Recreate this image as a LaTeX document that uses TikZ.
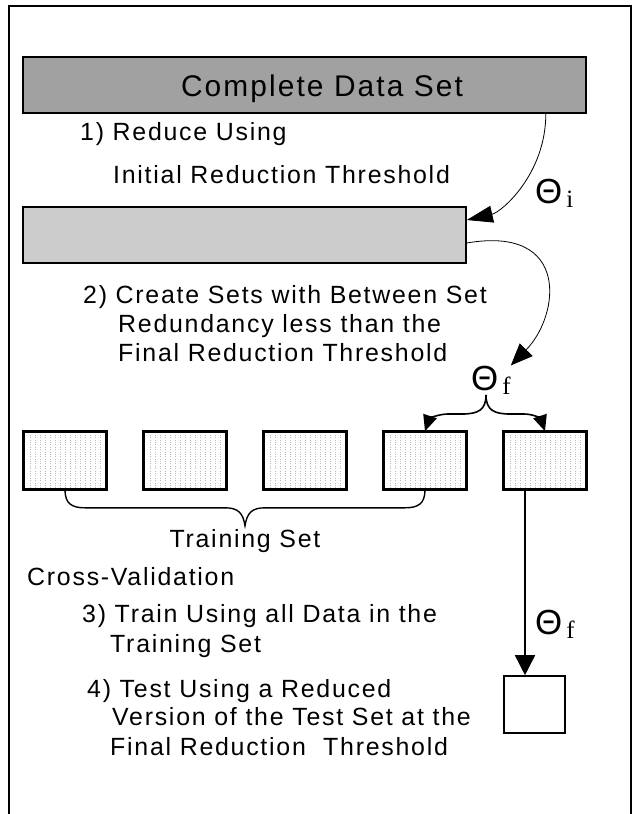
\documentclass[tikz,border=0pt]{standalone}
\usepackage{fontspec}
\setmainfont{Liberation Sans}[LetterSpace=7]
\newfontfamily\subfont{Liberation Serif}
\usetikzlibrary{arrows.meta,calc}
\definecolor{fullgray}{gray}{0.63}
\definecolor{redgray}{gray}{0.80}
\newcommand{\thetasub}[1]{{\fontsize{35}{35}\selectfont Θ}\hspace{4bp}\raisebox{-4bp}{\subfont\fontsize{25}{25}\selectfont #1}}
\tikzset{
  databox/.style={draw, line width=1.6bp, inner sep=0pt},
  steptext/.style={anchor=base west, inner sep=0pt, font=\fontsize{25}{30}\selectfont},
  thlabel/.style={anchor=base west, inner sep=0pt},
}
\begin{document}
\begin{tikzpicture}[x=1bp, y=-1bp]
  \useasboundingbox (0,0) rectangle (637,814);
  \draw[line width=1.8bp] (9,814) |- (631,6) -- (631,814); % 外框
  \node[databox, fill=fullgray, minimum width=563bp, minimum height=56bp] (full) at (304.5,85) {};
  \node[steptext, anchor=base, font=\fontsize{30}{30}\selectfont] (fulllbl) at (322,96) {Complete Data Set};
  \node[databox, fill=redgray, minimum width=443bp, minimum height=56bp] (reduced) at (244.5,235) {};
  \foreach \i in {1,...,5} {
      \node[databox, fill=white, minimum width=82bp, minimum height=57bp] (set\i) at (120*\i-55,460.5) {};
      \draw[step=5, gray!55, line width=0.4bp, dotted] ($(set\i.south west)+(2,-2)$) grid ($(set\i.north east)+(-2,2)$);
      \draw[line width=1.6bp] (set\i.south west) rectangle (set\i.north east);
  }
  \node[databox, fill=white, minimum width=61bp, minimum height=57bp] (final) at (534.5,704.5) {};
  \foreach \name/\x/\y/\txt in {s1a/80/140/{1) Reduce Using}, s1b/113/183/{Initial Reduction Threshold},
      s2a/83/303/{2) Create Sets with Between Set}, s2b/118/332/{Redundancy less than the},
      s2c/118/361/{Final Reduction Threshold}, cv/27/585/{Cross-Validation},
      s3a/82/622/{3) Train Using all Data in the}, s3b/110/652/{Training Set},
      s4a/87/697/{4) Test Using a Reduced}, s4b/112/725/{Version of the Test Set at the},
      s4c/110/755/{Final Reduction\ \ Threshold}} {
      \node[steptext] (\name) at (\x,\y) {\txt};
  }
  \node[thlabel] (thi) at (535,203) {\thetasub{i}};
  \node[thlabel] (thf) at (471,390) {\thetasub{f}};
  \node[thlabel] (thff) at (535,634) {\thetasub{f}};
  \draw[line width=0.8bp, -{Triangle[length=26bp,width=17bp]}] ($(full.south east)+(-41,0)$) .. controls +(0,60) and +(35,-8) .. ($(reduced.east)+(0,-15)$); % 第一步
  \draw[line width=0.8bp, -{Triangle[length=22bp,width=18bp]}] ($(reduced.east)+(0,8)$) .. controls +(104,-18) and +(49,-50) .. (thf.north east); % 第二步
  \coordinate (split) at ($(thf.base west)+(15,5)$);
  \draw[line width=1.6bp, -{Triangle[length=16bp,width=14bp]}] (split) .. controls +(0,15) and +(16,0) .. ++(-24,19) -- ++(-14,0) .. controls +(-10,0) and +(4,-12) .. (set4.north);
  \draw[line width=1.6bp, -{Triangle[length=16bp,width=14bp]}] (split) .. controls +(0,15) and +(-16,0) .. ++(24,19) -- ++(14,0) .. controls +(10,0) and +(-4,-12) .. (set5.north);
  \coordinate (tip) at ($(set1.south)!0.5!(set4.south)+(0,36)$);
  \draw[line width=1.4bp] (set1.south) .. controls +(0,14) and +(-13,0) .. ++(20,18) -- ($(tip)+(-20,-18)$) .. controls +(13,0) and +(-2,-13) .. (tip) .. controls +(2,-13) and +(-13,0) .. ($(tip)+(20,-18)$) -- ($(set4.south)+(-20,18)$) .. controls +(13,0) and +(0,14) .. (set4.south); % 训练集括号
  \node[steptext, anchor=base] (trainlbl) at ($(tip)+(0,22)$) {Training Set};
  \coordinate (drop) at ($(set5.south)+(-20,0)$);
  \draw[line width=1.6bp, -{Triangle[length=20bp,width=20bp]}] (drop) -- (drop |- final.north); % 测试集
\end{tikzpicture}
\end{document}
